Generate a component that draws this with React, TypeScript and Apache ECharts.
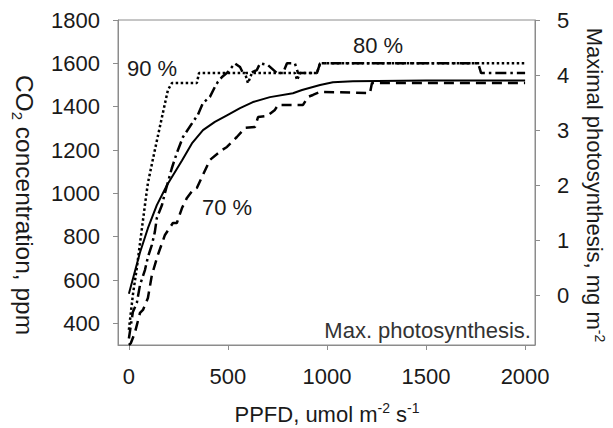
import React, { useEffect, useRef } from 'react';
import * as echarts from 'echarts';

const ppfdTicks = [0, 500, 1000, 1500, 2000];
const co2Ticks = [400, 600, 800, 1000, 1200, 1400, 1600, 1800];
const photoTicks = [0, 1, 2, 3, 4, 5];

// 90 % (dotted), CO2 ppm
const pct90X = [0, 20, 40, 66, 81, 96, 131, 167, 197, 217, 343, 354, 586, 601, 621, 838, 849, 864, 949, 965, 2000];
const pct90Y = [370, 531, 655, 840, 946, 1048, 1200, 1352, 1477, 1509, 1509, 1555, 1555, 1509, 1555, 1555, 1523, 1555, 1555, 1600, 1600];

// 80 % (dash-dot), CO2 ppm
const pct80X = [0, 20, 40, 56, 81, 96, 116, 131, 141, 167, 182, 217, 242, 273, 323, 348, 374, 409, 434, 449, 470, 500, 535, 561, 576, 611, 646, 662, 702, 747, 778, 798, 838, 854, 949, 965, 1763, 1778, 2000];
const pct80Y = [330, 452, 494, 577, 646, 706, 762, 822, 886, 946, 1002, 1117, 1186, 1260, 1329, 1362, 1417, 1445, 1491, 1514, 1537, 1560, 1600, 1583, 1555, 1555, 1569, 1600, 1592, 1555, 1555, 1600, 1600, 1555, 1555, 1600, 1600, 1555, 1555];

// 70 % (dashed), CO2 ppm
const pct70X = [0, 10, 30, 56, 71, 96, 116, 146, 182, 222, 242, 268, 293, 323, 343, 409, 470, 495, 545, 586, 636, 652, 697, 737, 753, 879, 904, 929, 965, 1217, 1227, 2000];
const pct70Y = [300, 309, 356, 448, 462, 517, 623, 715, 808, 863, 863, 932, 979, 1015, 1025, 1154, 1200, 1214, 1260, 1302, 1306, 1352, 1357, 1385, 1408, 1408, 1445, 1454, 1468, 1463, 1509, 1509];

// Max. photosynthesis (solid), mg m-2
const maxPhotoX = [0, 56, 96, 141, 192, 268, 318, 374, 434, 495, 561, 626, 712, 828, 874, 965, 1030, 1131, 1500, 2000];
const maxPhotoY = [0.03, 0.78, 1.22, 1.64, 2.0, 2.45, 2.76, 3.0, 3.15, 3.27, 3.4, 3.51, 3.6, 3.67, 3.73, 3.82, 3.87, 3.89, 3.9, 3.9];

const zip = (xs: number[], ys: number[]) => xs.map((x, i) => [x, ys[i]]);

const FONT = '"Liberation Sans", Arial, sans-serif';
const TXT = '#1a1a1a';
const AX = '#8c8c8c';

export default function App() {
  const ref = useRef<HTMLDivElement>(null);
  useEffect(() => {
    if (!ref.current) return;
    const chart = echarts.init(ref.current, undefined, { renderer: 'svg' });
    const plain = (v: number) => String(v);
    const axisCommon = {
      axisLine: { show: true, onZero: false, lineStyle: { color: AX, width: 1 } },
      splitLine: { show: false },
    };
    const option: any = {
      animation: false,
      backgroundColor: '#fff',
      grid: { left: 118, top: 20, right: 78, bottom: 83, show: true, borderColor: AX, borderWidth: 1 },
      xAxis: {
        type: 'value', min: -55, max: 2050, ...axisCommon,
        axisTick: { show: true, length: 5, customValues: ppfdTicks, lineStyle: { color: AX } },
        axisLabel: { customValues: ppfdTicks, formatter: plain, fontSize: 22, color: TXT, margin: 20, fontFamily: FONT },
      },
      yAxis: [
        {
          type: 'value', position: 'left', min: 300, max: 1800, ...axisCommon,
          axisTick: { show: true, length: 5, customValues: co2Ticks, lineStyle: { color: AX } },
          axisLabel: { customValues: co2Ticks, formatter: plain, fontSize: 22, color: TXT, margin: 18, fontFamily: FONT },
        },
        {
          type: 'value', position: 'right', min: -0.9, max: 5, ...axisCommon,
          axisTick: { show: true, length: 5, customValues: photoTicks, lineStyle: { color: AX } },
          axisLabel: { customValues: photoTicks, formatter: plain, fontSize: 22, color: TXT, margin: 22, fontFamily: FONT },
        },
      ],
      series: [
        {
          name: '90 %', type: 'line', yAxisIndex: 0, showSymbol: false, data: zip(pct90X, pct90Y),
          lineStyle: { color: '#000', width: 2.5, type: [2.5, 2.5] },
        },
        {
          name: '80 %', type: 'line', yAxisIndex: 0, showSymbol: false, data: zip(pct80X, pct80Y),
          lineStyle: { color: '#000', width: 2.5, type: [11, 4, 2.5, 4] },
        },
        {
          name: '70 %', type: 'line', yAxisIndex: 0, showSymbol: false, data: zip(pct70X, pct70Y),
          lineStyle: { color: '#000', width: 2.5, type: [10, 6] },
        },
        {
          name: 'Max. photosynthesis.', type: 'line', yAxisIndex: 1, showSymbol: false, data: zip(maxPhotoX, maxPhotoY),
          lineStyle: { color: '#000', width: 2 },
        },
      ],
      graphic: [
        {
          type: 'text', x: 327, y: 414,
          style: {
            text: '{a|PPFD, umol m}{b|-2}{a| s}{b|-1}', align: 'center', verticalAlign: 'middle', fill: TXT,
            rich: {
              a: { fontSize: 22, fontFamily: FONT, fill: TXT, lineHeight: 26 },
              b: { fontSize: 14, fontFamily: FONT, fill: TXT, lineHeight: 15, verticalAlign: 'top' },
            },
          },
        },
        {
          type: 'text', x: 24, y: 205, rotation: -Math.PI / 2,
          style: {
            text: '{a|CO}{c|2}{a| concentration, ppm}', align: 'center', verticalAlign: 'middle', fill: TXT,
            rich: {
              a: { fontSize: 24.5, fontFamily: FONT, fill: TXT, lineHeight: 29 },
              c: { fontSize: 15, fontFamily: FONT, fill: TXT, lineHeight: 16, verticalAlign: 'bottom' },
            },
          },
        },
        {
          type: 'text', x: 594, y: 185, rotation: -Math.PI / 2,
          style: {
            text: '{a|Maximal photosynthesis, mg m}{b|-2}', align: 'center', verticalAlign: 'middle', fill: TXT,
            rich: {
              a: { fontSize: 22, fontFamily: FONT, fill: TXT, lineHeight: 26 },
              b: { fontSize: 14, fontFamily: FONT, fill: TXT, lineHeight: 15, verticalAlign: 'top' },
            },
          },
        },
        { type: 'text', x: 531, y: 330, style: { text: 'Max. photosynthesis.', align: 'right', verticalAlign: 'middle', fontSize: 22, fontFamily: FONT, fill: '#333' } },
        { type: 'text', x: 127, y: 68, style: { text: '90 %', align: 'left', verticalAlign: 'middle', fontSize: 22, fontFamily: FONT, fill: TXT } },
        { type: 'text', x: 353, y: 45, style: { text: '80 %', align: 'left', verticalAlign: 'middle', fontSize: 22, fontFamily: FONT, fill: TXT } },
        { type: 'text', x: 202, y: 207, style: { text: '70 %', align: 'left', verticalAlign: 'middle', fontSize: 22, fontFamily: FONT, fill: TXT } },
      ],
    };
    chart.setOption(option);
    return () => chart.dispose();
  }, []);
  return <div ref={ref} style={{ position: 'fixed', left: 0, top: 0, width: 613, height: 428 }} />;
}
